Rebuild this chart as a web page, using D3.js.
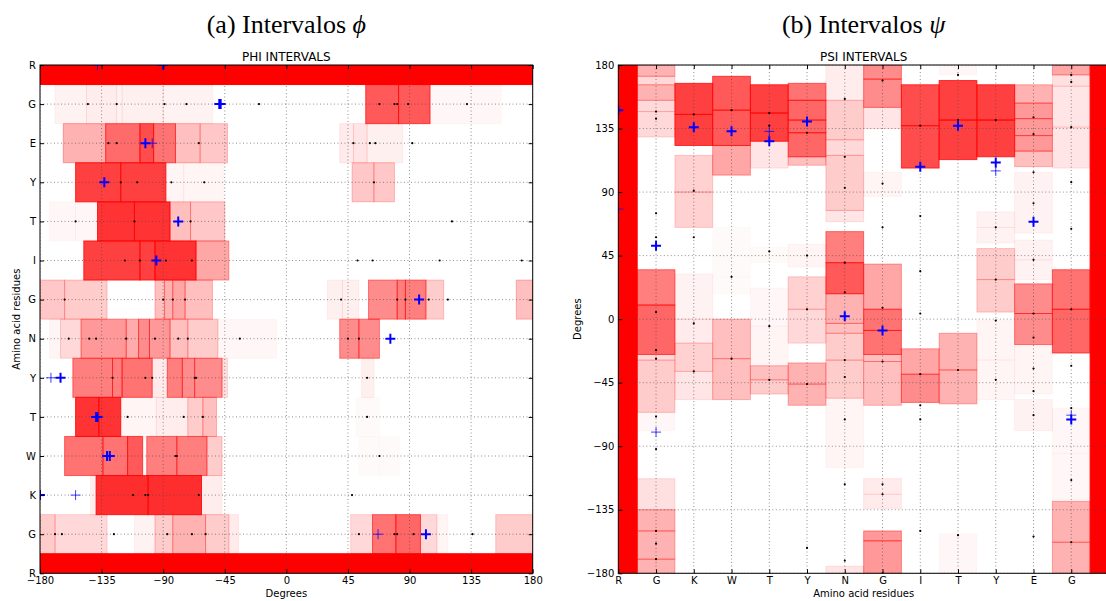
<!DOCTYPE html>
<html>
<head>
<meta charset="utf-8">
<script src="https://cdn.jsdelivr.net/npm/d3@7"></script>
<style>
  body { margin: 0; background: #fff; }
  svg text { font-family: "DejaVu Sans", sans-serif; }
</style>
</head>
<body>
<svg id="chart" width="1106" height="601"></svg>
<script>
// PHI panel: rows from top to bottom
var phiResidues = ["R", "G", "E", "Y", "T", "I", "G", "N", "Y", "T", "W", "K", "G", "R"];
var phiTicks = [-180, -135, -90, -45, 0, 45, 90, 135, 180];

// [lo, hi, weight] in degrees
var phiIntervals = [
  [[-180, 180, 1]],
  [[-169, -146, 0.05], [-146, -124, 0.07], [-124, -120, 0.05], [-120, -90, 0.06], [-90, -54, 0.05], [58, 82, 0.65], [82, 105, 0.65], [105, 157, 0.03]],
  [[-163, -132, 0.3], [-132, -107, 0.58], [-107, -97, 0.7], [-97, -81, 0.55], [-81, -63, 0.25], [-63, -43, 0.22], [39, 49, 0.08], [49, 59, 0.1], [59, 85, 0.06]],
  [[-154, -121, 0.75], [-121, -88, 0.75], [-88, -75, 0.04], [-75, -46, 0.04], [48, 64, 0.22], [64, 79, 0.22]],
  [[-173, -154, 0.03], [-154, -138, 0.03], [-138, -111, 0.8], [-111, -85, 0.8], [-85, -70, 0.25], [-70, -45, 0.22]],
  [[-148, -107, 0.75], [-107, -96, 0.75], [-96, -66, 0.8], [-66, -42, 0.35]],
  [[-180, -162, 0.22], [-162, -131, 0.2], [-96, -89, 0.25], [-89, -83, 0.3], [-83, -74, 0.35], [-74, -54, 0.25], [30, 41, 0.06], [41, 53, 0.06], [60, 81, 0.45], [81, 87, 0.5], [87, 102, 0.5], [102, 115, 0.2], [168, 180, 0.25]],
  [[-173, -165, 0.04], [-165, -150, 0.15], [-150, -117, 0.4], [-117, -108, 0.33], [-108, -100, 0.45], [-100, -85, 0.4], [-85, -72, 0.25], [-72, -50, 0.2], [-50, -7, 0.03], [39, 53, 0.45], [53, 68, 0.45]],
  [[-156, -127, 0.5], [-127, -120, 0.5], [-120, -98, 0.55], [-98, -87, 0.08], [-87, -76, 0.5], [-76, -67, 0.45], [-67, -47, 0.45], [-47, -43, 0.12], [55, 64, 0.06]],
  [[-154, -137, 0.8], [-137, -121, 0.8], [-121, -95, 0.04], [-95, -72, 0.07], [-72, -61, 0.2], [-61, -51, 0.25], [51, 68, 0.02]],
  [[-162, -134, 0.55], [-134, -116, 0.55], [-116, -105, 0.65], [-102, -80, 0.5], [-80, -58, 0.5], [-58, -47, 0.2], [53, 68, 0.02], [68, 83, 0.02]],
  [[-143, -139, 0.06], [-139, -101, 0.82], [-101, -62, 0.82], [-62, -47, 0.07]],
  [[-180, -169, 0.2], [-169, -131, 0.15], [-111, -96, 0.05], [-96, -83, 0.2], [-83, -59, 0.3], [-59, -42, 0.2], [-42, -35, 0.08], [47, 63, 0.15], [63, 80, 0.55], [80, 98, 0.6], [98, 110, 0.15], [110, 118, 0.04], [153, 180, 0.2]],
  [[-180, 180, 1]]
];

var phiDots = [
  [],
  [-145, -124, -89, -73, -20, 68, 79, 81, 89, 132],
  [-130, -124, -64, 49, 61, 65, 92],
  [-121, -109, -84, -60, 64],
  [-154, -111, -70, 121],
  [-118, -107, -88, -69, 52, 63, 112, 172],
  [-162, -90, -83, -74, 40, 81, 87, 104, 118],
  [-159, -144, -139, -117, -96, -79, -72, -34, 45, 53],
  [-127, -103, -98, -67, -66, 59],
  [-116, -75, -61, 59],
  [-81, -80, 68],
  [-112, -103, -101, -64, 48],
  [-169, -164, -126, -87, -69, -59, 53, 79, 81, 93, 136],
  []
];

var phiPlus = [[-90], [-49, -48], [-103], [-133], [-79], [-95], [97], [76], [-165], [-139, -138], [-131, -129], [-180], [102], []];
var phiPlusFaint = [[-138], [], [-98], [], [], [], [], [], [-172], [], [], [-154], [67], []];

// PSI panel: columns from left to right
var psiResidues = ["R", "G", "K", "W", "T", "Y", "N", "G", "I", "T", "Y", "E", "G", "R"];
var psiTicks = [-180, -135, -90, -45, 0, 45, 90, 135, 180];

var psiIntervals = [
  [[-180, 180, 1]],
  [[172, 180, 0.3], [166, 172, 0.15], [155, 166, 0.3], [147, 155, 0.15], [129, 147, 0.15], [10, 35, 0.5], [-25, 10, 0.6], [-29, -25, 0.15], [-66, -29, 0.2], [-79, -66, 0.03], [-135, -113, 0.12], [-150, -135, 0.3], [-170, -150, 0.3], [-180, -170, 0.3]],
  [[145, 167, 0.75], [123, 145, 0.75], [90, 116, 0.18], [65, 90, 0.18], [0, 32, 0.05], [-17, 0, 0.08], [-37, -17, 0.18], [-57, -37, 0.1]],
  [[148, 172, 0.65], [123, 148, 0.65], [102, 123, 0.35], [30, 65, 0.02], [18, 30, 0.02], [-28, 0, 0.25], [-57, -28, 0.25]],
  [[146, 166, 0.75], [126, 146, 0.75], [107, 126, 0.1], [40, 51, 0.02], [-5, 22, 0.03], [-33, -5, 0.04], [-43, -33, 0.25], [-53, -43, 0.2]],
  [[155, 167, 0.55], [141, 155, 0.6], [132, 141, 0.6], [115, 132, 0.6], [109, 115, 0.25], [37, 53, 0.04], [7, 30, 0.18], [-17, 7, 0.15], [-46, -31, 0.3], [-61, -46, 0.3]],
  [[155, 180, 0.07], [127, 155, 0.2], [116, 127, 0.15], [77, 116, 0.2], [69, 77, 0.1], [40, 62, 0.5], [18, 40, 0.65], [-3, 18, 0.3], [-10, -3, 0.25], [-29, -10, 0.2], [-56, -29, 0.2], [-105, -56, 0.04], [-180, -175, 0.1]],
  [[170, 180, 0.45], [150, 170, 0.45], [135, 150, 0.1], [87, 104, 0.04], [7, 39, 0.35], [-8, 7, 0.55], [-25, -8, 0.55], [-30, -25, 0.25], [-61, -30, 0.25], [-124, -113, 0.08], [-134, -124, 0.08], [-157, -150, 0.4], [-180, -157, 0.4]],
  [[137, 166, 0.7], [107, 137, 0.7], [-39, -21, 0.35], [-59, -39, 0.45]],
  [[173, 179, 0.03], [141, 169, 0.75], [113, 141, 0.75], [-36, -10, 0.3], [-60, -36, 0.3], [-180, -152, 0.03]],
  [[141, 166, 0.75], [115, 141, 0.75], [65, 76, 0.05], [54, 65, 0.05], [28, 50, 0.2], [5, 28, 0.2], [-29, -1, 0.04], [-57, -29, 0.04]],
  [[153, 166, 0.3], [142, 153, 0.4], [130, 142, 0.4], [119, 130, 0.4], [108, 119, 0.25], [61, 104, 0.05], [42, 56, 0.05], [28, 42, 0.05], [4, 25, 0.45], [-18, 4, 0.45], [-53, -18, 0.04], [-79, -57, 0.05]],
  [[173, 180, 0.35], [165, 173, 0.12], [136, 165, 0.1], [107, 136, 0.1], [7, 35, 0.55], [-24, 7, 0.6], [-95, -63, 0.03], [-128, -95, 0.03], [-158, -129, 0.3], [-180, -158, 0.3]],
  [[-180, 180, 1]]
];

var psiDots = [
  [],
  [147, 142, 75, 58, 5, -22, -28, -69, -92, -150, -159, -170],
  [145, 91, 58, -3, -37],
  [148, 30, -28],
  [146, 137, 48, -5, -43],
  [132, 45, 7, -46, -162],
  [156, 115, 93, 40, 19, -29, -41, -71, -117, -171],
  [169, 96, 65, 8, -30, -117, -124, -180],
  [137, 73, 34, 4, -39, -61, -71, -150],
  [173, 141, -36, -153],
  [141, 65, 28, -1, -43],
  [143, 131, 104, 82, 42, 4, -13, -35, -51, -68, -154],
  [173, 168, 136, 97, 64, 7, -33, -63, -114, -158],
  []
];

var psiPlus = [[148], [52], [136], [133], [126], [140], [2], [-8], [108], [137], [111], [69], [-71], []];
var psiPlusFaint = [[78], [-80], [], [], [133], [], [], [], [], [], [105], [], [-68], []];

window.addEventListener("load", function(){
	var svg = d3.select("#chart");
	var plusPath = "M-5,0H5M0,-5V5";

	// ---------- PHI ----------
	var x1 = d3.scaleLinear().domain([-180, 180]).range([40, 532.7]);
	var y1 = d3.scaleLinear().domain([0, phiResidues.length - 1]).range([65, 573.3]);
	var rowH = y1(1) - y1(0);

	svg.append("clipPath").attr("id", "clip1")
		.append("rect")
		.attr("x", x1(-180)).attr("y", y1(0))
		.attr("width", x1(180) - x1(-180)).attr("height", y1(13) - y1(0));

	var p1 = svg.append("g").attr("clip-path", "url(#clip1)");

	phiIntervals.forEach(function(row, i){
		p1.append("g").selectAll("rect")
			.data(row)
			.enter()
			.append("rect")
			.attr("x", function(d){ return x1(d[0]); })
			.attr("y", y1(i - 0.5))
			.attr("width", function(d){ return x1(d[1]) - x1(d[0]); })
			.attr("height", rowH)
			.attr("fill", "red")
			.attr("fill-opacity", function(d){ return d[2]; })
			.attr("stroke", "red")
			.attr("stroke-opacity", function(d){ return d[2]; })
			.attr("stroke-width", 1);
	});

	// grid
	p1.append("g").selectAll("line")
		.data(phiTicks)
		.enter()
		.append("line")
		.attr("x1", function(d){ return x1(d); })
		.attr("x2", function(d){ return x1(d); })
		.attr("y1", y1(0)).attr("y2", y1(13))
		.attr("class", "grid");
	p1.append("g").selectAll("line")
		.data(d3.range(phiResidues.length))
		.enter()
		.append("line")
		.attr("x1", x1(-180)).attr("x2", x1(180))
		.attr("y1", function(d){ return y1(d); })
		.attr("y2", function(d){ return y1(d); })
		.attr("class", "grid");

	phiDots.forEach(function(row, i){
		p1.append("g").selectAll("circle")
			.data(row)
			.enter()
			.append("circle")
			.attr("cx", function(d){ return x1(d); })
			.attr("cy", y1(i))
			.attr("r", 1.1)
			.attr("fill", "black");
	});

	phiPlusFaint.forEach(function(row, i){
		p1.append("g").selectAll("path")
			.data(row)
			.enter()
			.append("path")
			.attr("d", plusPath)
			.attr("transform", function(d){ return "translate(" + x1(d) + "," + y1(i) + ")"; })
			.attr("stroke", "blue").attr("stroke-width", 1).attr("stroke-opacity", 0.75);
	});
	phiPlus.forEach(function(row, i){
		p1.append("g").selectAll("path")
			.data(row)
			.enter()
			.append("path")
			.attr("d", plusPath)
			.attr("transform", function(d){ return "translate(" + x1(d) + "," + y1(i) + ")"; })
			.attr("stroke", "blue").attr("stroke-width", 2);
	});

	svg.append("g")
		.attr("transform", "translate(0," + y1(13) + ")")
		.call(d3.axisBottom(x1).tickValues(phiTicks).tickFormat(d3.format("d"))
			.tickSizeInner(-4).tickSizeOuter(0).tickPadding(4));
	svg.append("g")
		.attr("transform", "translate(0," + y1(0) + ")")
		.call(d3.axisTop(x1).tickValues(phiTicks).tickFormat("").tickSizeInner(-4).tickSizeOuter(0));
	svg.append("g")
		.attr("transform", "translate(" + x1(-180) + ",0)")
		.call(d3.axisLeft(y1).tickValues(d3.range(phiResidues.length))
			.tickFormat(function(d){ return phiResidues[d]; })
			.tickSizeInner(-4).tickSizeOuter(0).tickPadding(4));
	svg.append("g")
		.attr("transform", "translate(" + x1(180) + ",0)")
		.call(d3.axisRight(y1).tickValues(d3.range(phiResidues.length)).tickFormat("").tickSizeInner(-4).tickSizeOuter(0));

	svg.append("rect")
		.attr("x", x1(-180)).attr("y", y1(0))
		.attr("width", x1(180) - x1(-180)).attr("height", y1(13) - y1(0))
		.attr("fill", "none").attr("stroke", "black").attr("stroke-width", 1);

	var cx1 = (x1(-180) + x1(180)) / 2;
	svg.append("text").attr("x", cx1).attr("y", 61).attr("text-anchor", "middle")
		.style("font-size", "12px").text("PHI INTERVALS");
	svg.append("text").attr("x", cx1).attr("y", 597).attr("text-anchor", "middle")
		.style("font-size", "10px").text("Degrees");
	svg.append("text").attr("transform", "translate(20," + ((y1(0) + y1(13)) / 2) + ") rotate(-90)")
		.attr("text-anchor", "middle").style("font-size", "10px").text("Amino acid residues");
	var t1 = svg.append("text").attr("x", cx1).attr("y", 33).attr("text-anchor", "middle")
		.style("font-family", "'Liberation Serif', 'DejaVu Serif', serif").style("font-size", "26px");
	t1.append("tspan").text("(a) Intervalos ");
	t1.append("tspan").style("font-style", "italic").text("\u03d5");

	// ---------- PSI ----------
	var x2 = d3.scaleLinear().domain([0, psiResidues.length - 1]).range([618.3, 1109]);
	var y2 = d3.scaleLinear().domain([-180, 180]).range([573.3, 65]);
	var colW = x2(1) - x2(0);

	svg.append("clipPath").attr("id", "clip2")
		.append("rect")
		.attr("x", x2(0)).attr("y", y2(180))
		.attr("width", x2(13) - x2(0)).attr("height", y2(-180) - y2(180));

	var p2 = svg.append("g").attr("clip-path", "url(#clip2)");

	psiIntervals.forEach(function(col, i){
		p2.append("g").selectAll("rect")
			.data(col)
			.enter()
			.append("rect")
			.attr("x", x2(i - 0.5))
			.attr("y", function(d){ return y2(d[1]); })
			.attr("width", colW)
			.attr("height", function(d){ return y2(d[0]) - y2(d[1]); })
			.attr("fill", "red")
			.attr("fill-opacity", function(d){ return d[2]; })
			.attr("stroke", "red")
			.attr("stroke-opacity", function(d){ return d[2]; })
			.attr("stroke-width", 1);
	});

	p2.append("g").selectAll("line")
		.data(psiTicks)
		.enter()
		.append("line")
		.attr("x1", x2(0)).attr("x2", x2(13))
		.attr("y1", function(d){ return y2(d); })
		.attr("y2", function(d){ return y2(d); })
		.attr("class", "grid");
	p2.append("g").selectAll("line")
		.data(d3.range(psiResidues.length))
		.enter()
		.append("line")
		.attr("x1", function(d){ return x2(d); })
		.attr("x2", function(d){ return x2(d); })
		.attr("y1", y2(180)).attr("y2", y2(-180))
		.attr("class", "grid");

	psiDots.forEach(function(col, i){
		p2.append("g").selectAll("circle")
			.data(col)
			.enter()
			.append("circle")
			.attr("cx", x2(i))
			.attr("cy", function(d){ return y2(d); })
			.attr("r", 1.1)
			.attr("fill", "black");
	});

	psiPlusFaint.forEach(function(col, i){
		p2.append("g").selectAll("path")
			.data(col)
			.enter()
			.append("path")
			.attr("d", plusPath)
			.attr("transform", function(d){ return "translate(" + x2(i) + "," + y2(d) + ")"; })
			.attr("stroke", "blue").attr("stroke-width", 1).attr("stroke-opacity", 0.75);
	});
	psiPlus.forEach(function(col, i){
		p2.append("g").selectAll("path")
			.data(col)
			.enter()
			.append("path")
			.attr("d", plusPath)
			.attr("transform", function(d){ return "translate(" + x2(i) + "," + y2(d) + ")"; })
			.attr("stroke", "blue").attr("stroke-width", 2);
	});

	// last column sits on the window edge, its label falls outside the picture
	svg.append("g")
		.attr("transform", "translate(0," + y2(-180) + ")")
		.call(d3.axisBottom(x2).tickValues(d3.range(psiResidues.length - 1))
			.tickFormat(function(d){ return psiResidues[d]; })
			.tickSizeInner(-4).tickSizeOuter(0).tickPadding(4));
	svg.append("g")
		.attr("transform", "translate(0," + y2(180) + ")")
		.call(d3.axisTop(x2).tickValues(d3.range(psiResidues.length - 1)).tickFormat("").tickSizeInner(-4).tickSizeOuter(0));
	svg.append("g")
		.attr("transform", "translate(" + x2(0) + ",0)")
		.call(d3.axisLeft(y2).tickValues(psiTicks).tickFormat(d3.format("d"))
			.tickSizeInner(-4).tickSizeOuter(0).tickPadding(4));

	svg.append("rect")
		.attr("x", x2(0)).attr("y", y2(180))
		.attr("width", x2(13) - x2(0)).attr("height", y2(-180) - y2(180))
		.attr("fill", "none").attr("stroke", "black").attr("stroke-width", 1);

	var cx2 = (x2(0) + x2(13)) / 2;
	svg.append("text").attr("x", cx2).attr("y", 61).attr("text-anchor", "middle")
		.style("font-size", "12px").text("PSI INTERVALS");
	svg.append("text").attr("x", cx2).attr("y", 597).attr("text-anchor", "middle")
		.style("font-size", "10px").text("Amino acid residues");
	svg.append("text").attr("transform", "translate(581," + ((y2(180) + y2(-180)) / 2) + ") rotate(-90)")
		.attr("text-anchor", "middle").style("font-size", "10px").text("Degrees");
	var t2 = svg.append("text").attr("x", cx2).attr("y", 33).attr("text-anchor", "middle")
		.style("font-family", "'Liberation Serif', 'DejaVu Serif', serif").style("font-size", "26px");
	t2.append("tspan").text("(b) Intervalos ");
	t2.append("tspan").style("font-style", "italic").text("\u03c8");

	svg.selectAll(".grid")
		.attr("stroke", "#444")
		.attr("stroke-width", 0.6)
		.attr("stroke-dasharray", "1,2.5");
	svg.selectAll(".tick text").style("font-size", "10px").attr("fill", "black");
	svg.selectAll(".tick line").attr("stroke", "black");
	svg.selectAll(".domain").remove();
}, false);
</script>
</body>
</html>
